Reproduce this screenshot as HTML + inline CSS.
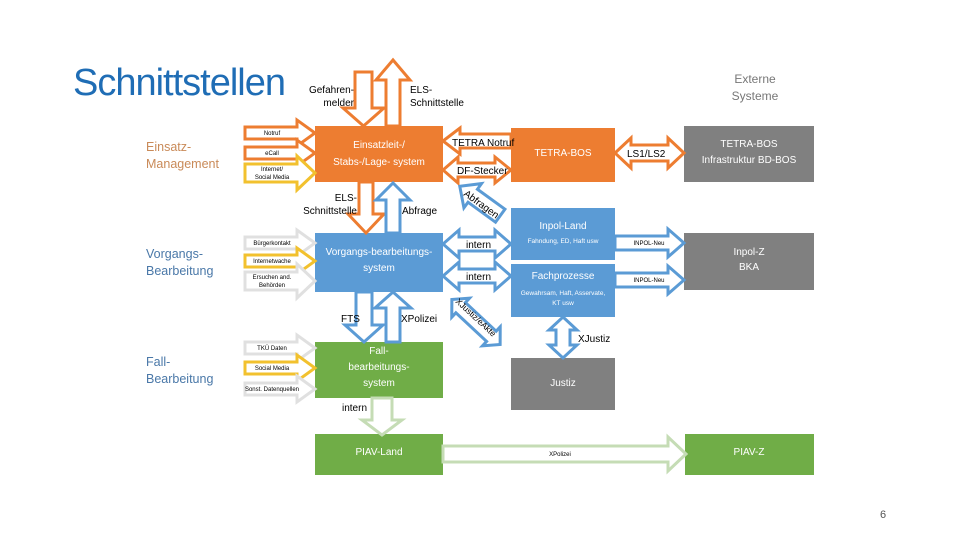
<!DOCTYPE html>
<html><head><meta charset="utf-8"><style>
html,body{margin:0;padding:0;background:#fff;}
svg{display:block;font-family:"Liberation Sans",sans-serif;}
</style></head><body>
<svg width="960" height="540" viewBox="0 0 960 540" xmlns="http://www.w3.org/2000/svg">
<text x="73" y="95" font-size="38" fill="#1f6db5" letter-spacing="-1">Schnittstellen</text>
<g font-size="12.5" fill="#c98a58">
<text x="146" y="151">Einsatz-</text><text x="146" y="168">Management</text></g>
<g font-size="12.5" fill="#4a78a8">
<text x="146" y="258">Vorgangs-</text><text x="146" y="275">Bearbeitung</text>
<text x="146" y="366">Fall-</text><text x="146" y="383">Bearbeitung</text></g>
<g font-size="12" fill="#777" text-anchor="middle"><text x="755" y="83">Externe</text><text x="755" y="100">Systeme</text></g>

<rect x="315" y="126" width="128" height="56" fill="#ed7d31"/>
<rect x="315" y="233" width="128" height="59" fill="#5b9bd5"/>
<rect x="315" y="342" width="128" height="56" fill="#70ad47"/>
<rect x="315" y="434" width="128" height="41" fill="#70ad47"/>
<rect x="511" y="128" width="104" height="54" fill="#ed7d31"/>
<rect x="684" y="126" width="130" height="56" fill="#808080"/>
<rect x="511" y="208" width="104" height="52" fill="#5b9bd5"/>
<rect x="511" y="264" width="104" height="53" fill="#5b9bd5"/>
<rect x="684" y="233" width="130" height="57" fill="#808080"/>
<rect x="511" y="358" width="104" height="52" fill="#808080"/>
<rect x="685" y="434" width="129" height="41" fill="#70ad47"/>

<g fill="#fff" stroke-width="3" stroke-linejoin="miter">
<polygon stroke="#ed7d31" points="245,127 297,127 297,120 315,133 297,146 297,139 245,139"/>
<polygon stroke="#ed7d31" points="245,147 297,147 297,140 315,153 297,166 297,159 245,159"/>
<polygon stroke="#f2c12e" points="245,164 297,164 297,156 315,173 297,190 297,182 245,182"/>
<polygon stroke="#e0e0e0" points="245,237 297,237 297,230 315,243 297,256 297,249 245,249"/>
<polygon stroke="#f2c12e" points="245,255 297,255 297,248 315,261 297,274 297,267 245,267"/>
<polygon stroke="#e0e0e0" points="245,272 297,272 297,264 315,281 297,298 297,290 245,290"/>
<polygon stroke="#e0e0e0" points="245,342 297,342 297,335 315,348 297,361 297,354 245,354"/>
<polygon stroke="#f2c12e" points="245,362 297,362 297,355 315,368 297,381 297,374 245,374"/>
<polygon stroke="#e0e0e0" points="245,383 297,383 297,376 315,389 297,402 297,395 245,395"/>
<polygon stroke="#ed7d31" points="355,72 372,72 372,108 384,108 363.5,126 343,108 355,108"/>
<polygon stroke="#ed7d31" points="386,126 400,126 400,80 410,80 393,60 376,80 386,80"/>
<polygon stroke="#ed7d31" points="359,182 373,182 373,214 384,214 366,233 348,214 359,214"/>
<polygon stroke="#5b9bd5" points="386,233 400,233 400,200 410,200 393,183 376,200 386,200"/>
<polygon stroke="#5b9bd5" points="356,292 372,292 372,325 383,325 364,342 345,325 356,325"/>
<polygon stroke="#5b9bd5" points="386,342 400,342 400,308 411,308 393,292 375,308 386,308"/>
<polygon stroke="#c5dcb5" points="372,398 392,398 392,420 402,420 382,435 362,420 372,420"/>
<polygon stroke="#ed7d31" points="443,141 460,128 460,134 511,134 511,148 460,148 460,154"/>
<polygon stroke="#ed7d31" points="443,170 458,157 458,163 495,163 495,157 511,170 495,183 495,177 458,177 458,183"/>
<polygon stroke="#ed7d31" points="615,153 631,138 631,145 668,145 668,138 684,153 668,168 668,161 631,161 631,168"/>
<polygon stroke="#5b9bd5" points="443,244 459,230 459,237 495,237 495,230 511,244 495,258 495,251 459,251 459,258"/>
<polygon stroke="#5b9bd5" points="443,276 459,262 459,269 495,269 495,262 511,276 495,290 495,283 459,283 459,290"/>
<polygon stroke="#5b9bd5" points="615,236 668,236 668,229 684,243 668,257 668,250 615,250"/>
<polygon stroke="#5b9bd5" points="615,273 668,273 668,266 684,280 668,294 668,287 615,287"/>
<polygon stroke="#5b9bd5" points="563,317 577,330 570,330 570,345 577,345 563,358 549,345 556,345 556,330 549,330"/>
<polygon stroke="#c5dcb5" points="443,446 668,446 668,437 686,454 668,471 668,462 443,462"/>
<g transform="translate(480,201) rotate(216)"><polygon stroke="#5b9bd5" points="-25,-8 9,-8 9,-15 25,0 9,15 9,8 -25,8"/></g>
<g transform="translate(476,322) rotate(43)"><polygon stroke="#5b9bd5" points="-33,0 -21,-13 -21,-7 21,-7 21,-13 33,0 21,13 21,7 -21,7 -21,13"/></g>
</g>

<g font-size="6" fill="#000" text-anchor="middle">
<text x="272" y="135">Notruf</text><text x="272" y="155">eCall</text>
<text x="272" y="171">Internet/</text><text x="272" y="179">Social Media</text>
<text x="272" y="245">Bürgerkontakt</text><text x="272" y="263">Internetwache</text>
<text x="272" y="279">Ersuchen and.</text><text x="272" y="287">Behörden</text>
<text x="272" y="350">TKÜ Daten</text><text x="272" y="370">Social Media</text><text x="272" y="391">Sonst. Datenquellen</text>
<text x="649" y="245">INPOL-Neu</text><text x="649" y="282">INPOL-Neu</text>
<text x="560" y="456">XPolizei</text>
</g>
<g font-size="10" fill="#000">
<text x="354" y="93" text-anchor="end">Gefahren-</text><text x="354" y="106" text-anchor="end">melder</text>
<text x="410" y="93">ELS-</text><text x="410" y="106">Schnittstelle</text>
<text x="357" y="201" text-anchor="end">ELS-</text><text x="357" y="214" text-anchor="end">Schnittstelle</text>
<text x="402" y="214">Abfrage</text>
<text x="452" y="146">TETRA Notruf</text><text x="457" y="174">DF-Stecker</text>
<text x="627" y="157">LS1/LS2</text>
<text x="466" y="248">intern</text><text x="466" y="280">intern</text>
<text x="341" y="322">FTS</text><text x="401" y="322">XPolizei</text>
<text x="578" y="342">XJustiz</text>
<text x="342" y="411">intern</text>
<text transform="translate(463,195) rotate(36)">Abfragen</text>
<text transform="translate(455,302) rotate(43)" font-size="8.5">XJustiz/eAkte</text>
</g>
<g fill="#fff" text-anchor="middle" font-size="10">
<text x="379" y="148">Einsatzleit-/</text><text x="379" y="165">Stabs-/Lage- system</text>
<text x="379" y="255">Vorgangs-bearbeitungs-</text><text x="379" y="271">system</text>
<text x="379" y="354">Fall-</text><text x="379" y="370">bearbeitungs-</text><text x="379" y="386">system</text>
<text x="379" y="455">PIAV-Land</text>
<text x="563" y="156">TETRA-BOS</text>
<text x="749" y="147">TETRA-BOS</text><text x="749" y="163">Infrastruktur BD-BOS</text>
<text x="563" y="229">Inpol-Land</text>
<text x="563" y="279">Fachprozesse</text>
<text x="749" y="255">Inpol-Z</text><text x="749" y="270">BKA</text>
<text x="563" y="386">Justiz</text>
<text x="749" y="455">PIAV-Z</text>
</g>
<g fill="#fff" text-anchor="middle" font-size="6.5">
<text x="563" y="243">Fahndung, ED, Haft usw</text>
<text x="563" y="295">Gewahrsam, Haft, Asservate,</text><text x="563" y="305">KT usw</text>
</g>
<text x="883" y="518" font-size="11" fill="#555" text-anchor="middle">6</text>
</svg>
</body></html>
